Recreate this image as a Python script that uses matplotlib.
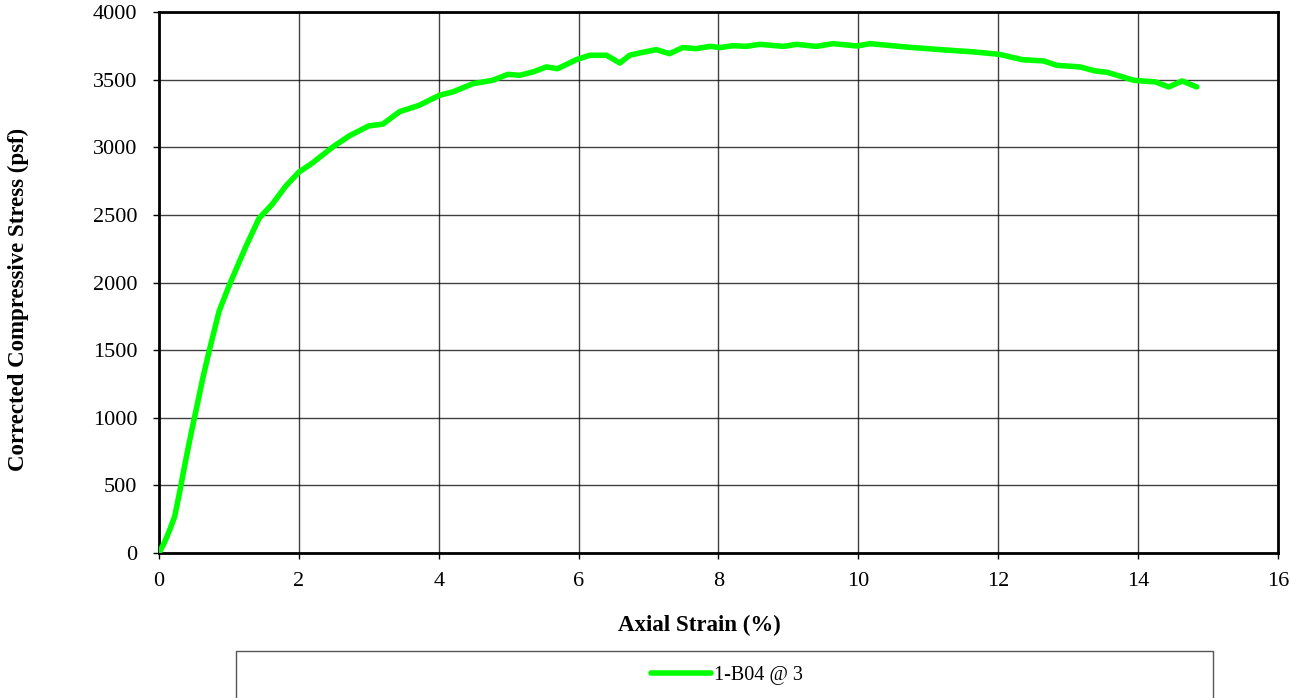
import matplotlib.pyplot as plt
from matplotlib.patches import Rectangle

# axial strain (%) and corrected compressive stress (psf)
strain = [0.0, 0.08, 0.153, 0.224, 0.295, 0.367, 0.462, 0.534, 0.629, 0.724,
          0.86, 1.0, 1.24, 1.43, 1.62, 1.81, 2.0, 2.19, 2.48, 2.72, 3.0, 3.2,
          3.44, 3.72, 4.01, 4.2, 4.49, 4.77, 4.99, 5.16, 5.35, 5.54, 5.70,
          5.97, 6.16, 6.40, 6.59, 6.73, 6.87, 7.11, 7.30, 7.49, 7.68, 7.88,
          8.02, 8.21, 8.40, 8.59, 8.93, 9.12, 9.40, 9.64, 9.98, 10.17, 10.69,
          11.17, 11.65, 12.02, 12.34, 12.65, 12.84, 13.17, 13.39, 13.56,
          13.94, 14.25, 14.44, 14.63, 14.84]
stress = [0, 80, 170, 270, 449, 646, 892, 1065, 1299, 1508,
          1789, 1974, 2263, 2474, 2579, 2711, 2816, 2882, 3000, 3084, 3158, 3171,
          3263, 3310, 3384, 3409, 3470, 3495, 3539, 3532, 3557, 3594, 3581,
          3648, 3680, 3680, 3623, 3680, 3697, 3722, 3692, 3737, 3729, 3746,
          3737, 3751, 3746, 3761, 3746, 3761, 3746, 3766, 3749, 3766, 3741,
          3722, 3705, 3687, 3648, 3638, 3606, 3594, 3564, 3554,
          3495, 3483, 3446, 3490, 3446]

series_label = "1-B04 @ 3"
x_ticks = list(range(0, 17, 2))
y_ticks = list(range(0, 4001, 500))

plt.rcParams['font.family'] = ['Liberation Serif', 'DejaVu Serif']

fig = plt.figure(figsize=(13, 6.98), dpi=100)
ax = fig.add_axes([0.1223, 0.2077, 0.8607, 0.7751])

line, = ax.plot(strain, stress, color="#00ff00", lw=4.0, solid_capstyle="round",
                solid_joinstyle="round", label=series_label, zorder=3)

ax.set_xlim(0, 16)
ax.set_ylim(0, 4000)
ax.set_xticks(x_ticks)
ax.set_yticks(y_ticks)
ax.grid(True, color="black", lw=1.0, alpha=0.75)
ax.tick_params(labelsize=16, direction="out", length=4.5, width=1)
ax.tick_params(axis="y", pad=11)
ax.tick_params(axis="x", pad=9)
for s in ax.spines.values():
    s.set_linewidth(2)
    s.set_color("black")

ax.set_xlabel("Axial Strain (%)", fontsize=16.5, fontweight="bold", va="center")
ax.set_ylabel("Corrected Compressive Stress (psf)", fontsize=16.5, fontweight="bold",
              va="center")
ax.xaxis.set_label_coords(0.483, -0.133)
ax.yaxis.set_label_coords(-0.126, 0.468)

# legend box under the plot
fig.patches.append(Rectangle((0.1815, -0.01), 0.7515, 0.0773, transform=fig.transFigure,
                             fill=False, edgecolor="#555555", lw=1))
fig.legend(handles=[line], loc="center", bbox_to_anchor=(0.559, 0.0325), frameon=False,
           fontsize=14.5, handlelength=3.0, handletextpad=0.15)

fig.savefig("out.png", dpi=100)
